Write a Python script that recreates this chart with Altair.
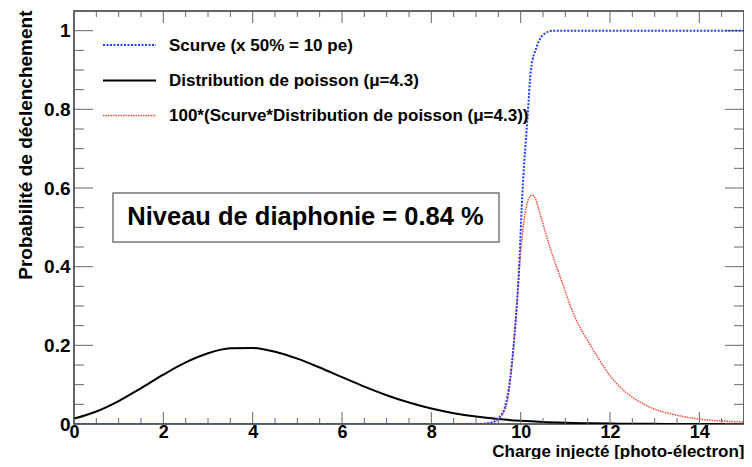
import altair as alt
import pandas as pd

# ---------------- data ----------------
poisson_x = [0, 0.5, 1, 1.5, 2, 2.5, 3, 3.5, 4, 4.5, 5, 5.5, 6, 6.5, 7, 7.5,
             8, 8.5, 9, 9.5, 10, 10.5, 11, 11.5, 12, 12.5, 13, 13.5, 14, 14.5, 15]
poisson_y = [0.0136, 0.0318, 0.0583, 0.0910, 0.1254, 0.1565, 0.1798, 0.1923,
             0.1933, 0.1837, 0.1662, 0.1436, 0.1191, 0.0950, 0.0732, 0.0545,
             0.0393, 0.0276, 0.0188, 0.0125, 0.0081, 0.0051, 0.0032, 0.0019,
             0.0011, 0.0007, 0.0004, 0.0002, 0.0001, 0.0001, 0.0]

scurve_x = [0, 9.0, 9.3, 9.5, 9.65, 9.76, 9.84, 9.95, 10.05, 10.15, 10.23,
            10.36, 10.5, 10.73, 15]
scurve_y = [0, 0, 0.002, 0.015, 0.044, 0.112, 0.197, 0.366, 0.61, 0.773, 0.90,
            0.959, 0.989, 1.0, 1.0]

xtalk_x = [8.4, 9.0, 9.3, 9.5, 9.67, 9.77, 9.9, 10.01, 10.1, 10.17, 10.26,
           10.34, 10.43, 10.65, 10.91, 11.18, 11.58, 12.13, 12.54, 12.95,
           13.47, 13.98, 14.5, 15.0]
xtalk_y = [0, 0, 0.002, 0.012, 0.044, 0.112, 0.281, 0.451, 0.536, 0.57, 0.582,
           0.57, 0.536, 0.451, 0.366, 0.281, 0.197, 0.105, 0.065, 0.040,
           0.023, 0.0127, 0.0076, 0.005]

x_major = [0, 2, 4, 6, 8, 10, 12, 14]
x_minor = [0.5, 1, 1.5, 2.5, 3, 3.5, 4.5, 5, 5.5, 6.5, 7, 7.5, 8.5, 9, 9.5,
           10.5, 11, 11.5, 12.5, 13, 13.5, 14.5]
y_major = [0, 0.2, 0.4, 0.6, 0.8, 1.0]
y_minor = [0.05, 0.1, 0.15, 0.25, 0.3, 0.35, 0.45, 0.5, 0.55, 0.65, 0.7, 0.75,
           0.85, 0.9, 0.95, 1.05]

legend_labels = ["Scurve (x 50% = 10 pe)",
                 "Distribution de poisson (\u03bc=4.3)",
                 "100*(Scurve*Distribution de poisson (\u03bc=4.3))"]
box_text = "Niveau de diaphonie = 0.84 %"
x_title = "Charge injecté [photo-électron]"
y_title = "Probabilité de déclenchement"

# ---------------- styles ----------------
FONT = "Liberation Sans"
W, H = 670, 413
BLUE = "#2040ff"
RED = "#ff3322"
TICK = "#666666"

xs = alt.Scale(domain=[0, 15], nice=False, zero=False)
ys = alt.Scale(domain=[0, 1.05], nice=False, zero=False)

xaxis = alt.Axis(values=x_major, format="d", title=x_title, ticks=False, tickSize=0,
                 domain=False, grid=False, labelFont=FONT, labelFontSize=18,
                 labelFontWeight="bold", labelColor="black", labelPadding=13,
                 labelBaseline="alphabetic", labelFlush=False, labelOverlap=False,
                 titleFont=FONT, titleFontSize=17, titleFontWeight="bold",
                 titleColor="black", titleAlign="right", titleAnchor="end",
                 titleX=W, titleY=32, titleBaseline="alphabetic")
yaxis = alt.Axis(values=y_major, format="~g", title=y_title, ticks=False, tickSize=0,
                 domain=False, grid=False, labelFont=FONT, labelFontSize=19,
                 labelFontWeight="bold", labelColor="black", labelPadding=4,
                 labelOverlap=False, labelFlush=False,
                 titleFont=FONT, titleFontSize=19, titleFontWeight="bold",
                 titleColor="black", titleAngle=270, titleAlign="right",
                 titleAnchor="end", titleX=-43, titleY=-1, titleBaseline="alphabetic")

X = alt.X("x:Q", scale=xs, axis=xaxis)
Y = alt.Y("y:Q", scale=ys, axis=yaxis)

df_p = pd.DataFrame({"x": poisson_x, "y": poisson_y})
df_s = pd.DataFrame({"x": scurve_x, "y": scurve_y})
df_r = pd.DataFrame({"x": xtalk_x, "y": xtalk_y})

black = alt.Chart(df_p).mark_line(color="black", strokeWidth=2, interpolate="monotone",
                                  clip=True).encode(x=X, y=Y)
red = alt.Chart(df_r).mark_line(color=RED, strokeWidth=1.5, strokeDash=[1.5, 1],
                                opacity=0.9, interpolate="monotone",
                                clip=True).encode(x=X, y=Y)
blue = alt.Chart(df_s).mark_line(color=BLUE, strokeWidth=2, strokeDash=[2, 1.5],
                                 interpolate="monotone", clip=True).encode(x=X, y=Y)

# ---------------- inward ticks (ROOT style) ----------------
def xticks(vals, length):
    d = pd.DataFrame({"x": vals})
    bot = alt.Chart(d).mark_rule(color=TICK, strokeWidth=1).encode(
        x=X, y=alt.value(H), y2=alt.value(H - length))
    top = alt.Chart(d).mark_rule(color=TICK, strokeWidth=1).encode(
        x=X, y=alt.value(0), y2=alt.value(length))
    return [bot, top]

def yticks(vals, length):
    d = pd.DataFrame({"y": vals})
    left = alt.Chart(d).mark_rule(color=TICK, strokeWidth=1).encode(
        y=Y, x=alt.value(0), x2=alt.value(length))
    right = alt.Chart(d).mark_rule(color=TICK, strokeWidth=1).encode(
        y=Y, x=alt.value(W), x2=alt.value(W - length))
    return [left, right]

ticks = xticks(x_major, 12) + xticks(x_minor, 6) + yticks(y_major, 19) + yticks(y_minor, 10)

# ---------------- legend ----------------
leg_rows = [34, 69.5, 104.5]
leg_styles = [dict(color=BLUE, strokeWidth=2, strokeDash=[2, 1.5]),
              dict(color="black", strokeWidth=2),
              dict(color=RED, strokeWidth=1.5, strokeDash=[1.5, 1], opacity=0.9)]
legend = []
one = pd.DataFrame({"a": [0]})
for lbl, yy, st in zip(legend_labels, leg_rows, leg_styles):
    legend.append(alt.Chart(one).mark_rule(**st).encode(
        x=alt.value(29), x2=alt.value(82), y=alt.value(yy)))
    legend.append(alt.Chart(pd.DataFrame({"t": [lbl]})).mark_text(
        font=FONT, fontSize=17, fontWeight="bold", color="black", align="left",
        baseline="alphabetic").encode(x=alt.value(95), y=alt.value(yy + 5.5), text="t:N"))

# ---------------- annotation box ----------------
box = alt.Chart(one).mark_rect(fill="white", stroke="#777777", strokeWidth=1.5).encode(
    x=alt.value(39), x2=alt.value(425), y=alt.value(182), y2=alt.value(231))
box_txt = alt.Chart(pd.DataFrame({"t": [box_text]})).mark_text(
    font=FONT, fontSize=25.5, fontWeight="bold", color="black", align="center",
    baseline="alphabetic").encode(x=alt.value(231.5), y=alt.value(214), text="t:N")

chart = alt.layer(black, *ticks, red, blue, *legend, box, box_txt).properties(
    width=W, height=H,
    padding={"left": 66, "top": 3, "right": 0, "bottom": 35},
    autosize=alt.AutoSizeParams(type="none"),
    background="white",
).configure_view(stroke="#333333", strokeWidth=1.5)

chart.save("out.html", embed_options={"renderer": "svg", "actions": False})
